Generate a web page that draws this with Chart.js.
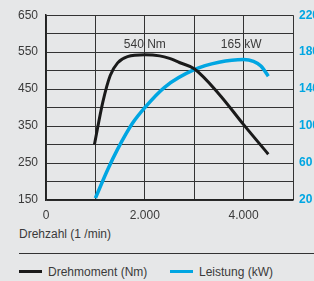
<!DOCTYPE html>
<html>
<head>
<meta charset="utf-8">
<script src="https://cdn.jsdelivr.net/npm/chart.js@4/dist/chart.umd.min.js"></script>
<style>
  html, body { margin: 0; padding: 0; background: #e6e7e8; overflow: hidden; }
  body { width: 314px; height: 281px; position: relative; font-family: "Liberation Sans", Arial, sans-serif; color: #3a3a3a; }
  #chart { position: absolute; left: 0; top: 0; }
  .axis-title { position: absolute; left: 19px; top: 227px; font-size: 12px; }
  .sep { position: absolute; left: 19px; right: 0; top: 253px; height: 0; border-top: 1.5px solid #333; }
  .legend { position: absolute; top: 265px; font-size: 12px; white-space: nowrap; }
  .legend i { display: inline-block; width: 23px; height: 3px; vertical-align: middle; margin-right: 6px; position: relative; top: -1px; }
</style>
</head>
<body>
<canvas id="chart" width="314" height="225"></canvas>
<div class="axis-title">Drehzahl (1 /min)</div>
<div class="sep"></div>
<div class="legend" style="left:19px"><i style="background:#1a1a1a"></i>Drehmoment (Nm)</div>
<div class="legend" style="left:170px"><i style="background:#00a6e2"></i>Leistung (kW)</div>
<script>
const torqueRpm = [980, 1150, 1300, 1450, 1650, 2000, 2300, 2500, 2700, 3000, 3500, 4000, 4500];
const torqueNm  = [300, 415, 487, 521, 538, 543, 540, 533, 522, 505, 437, 354, 274];
const powerRpm  = [1000, 1250, 1450, 1750, 2000, 2400, 3000, 3500, 4000, 4200, 4350, 4500];
const powerKw   = [22, 53, 75, 103, 120, 142, 161, 169, 172, 170, 165, 154];
const peakLabels = [
  { text: '540 Nm', rpm: 2000, nm: 570 },
  { text: '165 kW', rpm: 3950, nm: 570 }
];

const fmtRpm = v => v === 0 ? '0' : (v / 1000) + '.000';

const peakText = {
  id: 'peakText',
  afterDatasetsDraw(chart) {
    const ctx = chart.ctx, x = chart.scales.x, y = chart.scales.y;
    ctx.save();
    ctx.font = '12px "Liberation Sans", Arial, sans-serif';
    ctx.fillStyle = '#3a3a3a';
    ctx.textAlign = 'center';
    ctx.textBaseline = 'middle';
    peakLabels.forEach(p => ctx.fillText(p.text, x.getPixelForValue(p.rpm), y.getPixelForValue(p.nm)));
    ctx.restore();
  }
};

new Chart(document.getElementById('chart'), {
  type: 'line',
  data: {
    datasets: [
      {
        label: 'Drehmoment (Nm)',
        data: torqueRpm.map((r, i) => ({ x: r, y: torqueNm[i] })),
        borderColor: '#1a1a1a', borderWidth: 3, pointRadius: 0,
        cubicInterpolationMode: 'monotone', yAxisID: 'y'
      },
      {
        label: 'Leistung (kW)',
        data: powerRpm.map((r, i) => ({ x: r, y: powerKw[i] })),
        borderColor: '#00a6e2', borderWidth: 3.5, pointRadius: 0,
        cubicInterpolationMode: 'monotone', yAxisID: 'y1'
      }
    ]
  },
  options: {
    responsive: false,
    animation: false,
    layout: { padding: { top: 12, right: 0, left: 0, bottom: 0 } },
    plugins: { legend: { display: false }, tooltip: { enabled: false } },
    scales: {
      x: {
        type: 'linear', min: 0, max: 5000,
        grid: { color: '#333', lineWidth: 1, drawTicks: false },
        border: { color: '#222', width: 1.5 },
        ticks: {
          stepSize: 1000, autoSkip: false, padding: 8, color: '#3a3a3a',
          font: { family: '"Liberation Sans", Arial, sans-serif', size: 12 },
          callback: v => v % 2000 === 0 ? fmtRpm(v) : ''
        },
        afterFit: s => { s.height = 25; }
      },
      y: {
        position: 'left', min: 150, max: 650,
        grid: { color: '#333', lineWidth: 1, drawTicks: false },
        border: { color: '#222', width: 1.5 },
        ticks: {
          stepSize: 50, autoSkip: false, padding: 8, color: '#3a3a3a',
          font: { family: '"Liberation Sans", Arial, sans-serif', size: 12 },
          callback: v => (v - 150) % 100 === 0 ? v : ''
        },
        afterFit: s => { s.width = 46; }
      },
      y1: {
        position: 'right', min: 20, max: 220,
        grid: { display: false, drawTicks: false },
        border: { display: false },
        ticks: {
          stepSize: 40, autoSkip: false, padding: 6, color: '#00a6e2',
          font: { family: '"Liberation Sans", Arial, sans-serif', size: 12, weight: 'bold' }
        },
        afterFit: s => { s.width = 21; }
      }
    }
  },
  plugins: [peakText]
});
</script>
</body>
</html>
